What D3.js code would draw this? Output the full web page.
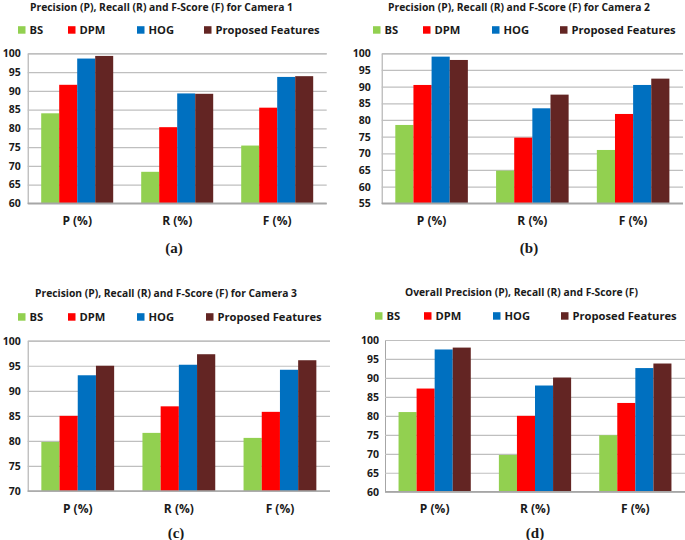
<!DOCTYPE html>
<html><head><meta charset="utf-8">
<script src="https://cdn.jsdelivr.net/npm/d3@7"></script>
<style>
body{margin:0;background:#fff;}
svg{display:block;}
text{font-family:"Open Sans",sans-serif;font-weight:bold;fill:#1a1a1a;}
</style></head>
<body>
<svg id="c" width="685" height="540"></svg>
<script>
const categories = ["P (%)", "R (%)", "F (%)"];
const seriesNames = ["BS", "DPM", "HOG", "Proposed Features"];
const seriesColors = ["#92D050", "#FF0000", "#0070C0", "#632523"];

// Camera 1
const cam1BS   = [84.0, 68.4, 75.4];
const cam1DPM  = [91.6, 80.3, 85.5];
const cam1HOG  = [98.6, 89.3, 93.7];
const cam1Prop = [99.3, 89.2, 93.9];
// Camera 2
const cam2BS   = [78.5, 64.8, 71.0];
const cam2DPM  = [90.5, 74.7, 81.8];
const cam2HOG  = [99.0, 83.5, 90.5];
const cam2Prop = [98.0, 87.6, 92.4];
// Camera 3
const cam3BS   = [79.8, 81.6, 80.6];
const cam3DPM  = [85.0, 86.9, 85.8];
const cam3HOG  = [93.1, 95.2, 94.2];
const cam3Prop = [95.0, 97.3, 96.1];
// Overall
const allBS   = [81.0, 69.7, 74.9];
const allDPM  = [87.2, 80.0, 83.4];
const allHOG  = [97.5, 88.0, 92.6];
const allProp = [98.0, 90.1, 93.8];

const ticksA = [60, 65, 70, 75, 80, 85, 90, 95, 100];
const ticksB = [55, 60, 65, 70, 75, 80, 85, 90, 95, 100];
const ticksC = [70, 75, 80, 85, 90, 95, 100];
const ticksD = [60, 65, 70, 75, 80, 85, 90, 95, 100];

const titles = [
  "Precision (P), Recall (R) and F-Score (F) for Camera 1",
  "Precision (P), Recall (R) and F-Score (F) for Camera 2",
  "Precision (P), Recall (R) and F-Score (F) for Camera 3",
  "Overall Precision (P), Recall (R) and F-Score (F)"
];
const panelLabels = ["(a)", "(b)", "(c)", "(d)"];

const svg = d3.select("#c");

const panels = [
  {series:[cam1BS,cam1DPM,cam1HOG,cam1Prop], ticks:ticksA, x0:27.7, x1:326.7, y0:53.3, y1:203.3,
   titleX:161.5, titleY:11, titleW:263, legY:30, legX:[18,68,137,204], labY:252.5, labX:174, tickGap:7},
  {series:[cam2BS,cam2DPM,cam2HOG,cam2Prop], ticks:ticksB, x0:381.7, x1:683, y0:53.3, y1:203.3,
   titleX:519, titleY:11, titleW:262, legY:30, legX:[373,423,492,560], labY:252.5, labX:529, tickGap:11},
  {series:[cam3BS,cam3DPM,cam3HOG,cam3Prop], ticks:ticksC, x0:27.7, x1:330, y0:340.7, y1:491,
   titleX:166, titleY:297, titleW:262, legY:317, legX:[18,68,137,206], labY:537.5, labX:176, tickGap:7},
  {series:[allBS,allDPM,allHOG,allProp], ticks:ticksD, x0:385, x1:685, y0:340, y1:491.7,
   titleX:521.5, titleY:296, titleW:233, legY:316, legX:[375,424,493,561], labY:537.5, labX:535, tickGap:6}
];

panels.forEach((p, i) => {
  const g = svg.append("g");
  const ext = d3.extent(p.ticks);
  const y = d3.scaleLinear().domain(ext).range([p.y1, p.y0]);
  const x = d3.scaleBand().domain(categories).range([p.x0, p.x1]).paddingInner(0.28).paddingOuter(0.135);
  const xs = d3.scaleBand().domain(seriesNames).range([0, x.bandwidth()]).padding(0);

  // gridlines
  const yAxis = d3.axisLeft(y).tickValues(p.ticks).tickSize(-(p.x1 - p.x0)).tickPadding(p.tickGap).tickFormat(d3.format("d"));
  const ag = g.append("g").attr("transform", `translate(${p.x0},0)`).call(yAxis);
  ag.select(".domain").attr("stroke", "#a6a6a6");
  ag.selectAll(".tick line").attr("stroke", "#bfbfbf").attr("stroke-width", 1.2);
  ag.selectAll(".tick text").style("font-size", "10.5px").attr("fill", "#1a1a1a");

  // bars
  seriesNames.forEach((s, si) => {
    g.append("g").selectAll("rect").data(p.series[si]).join("rect")
      .attr("x", (d, ci) => x(categories[ci]) + xs(s))
      .attr("width", xs.bandwidth())
      .attr("y", d => y(d))
      .attr("height", d => y(ext[0]) - y(d))
      .attr("fill", seriesColors[si]);
  });

  // baseline
  g.append("line").attr("x1", p.x0).attr("x2", p.x1).attr("y1", p.y1).attr("y2", p.y1)
    .attr("stroke", "#a6a6a6").attr("stroke-width", 1.5);

  // category labels
  const xAxis = d3.axisBottom(x).tickSize(0).tickPadding(13);
  const xg = g.append("g").attr("transform", `translate(0,${p.y1})`).call(xAxis);
  xg.select(".domain").remove();
  xg.selectAll(".tick text").style("font-size", "12px").attr("fill", "#1a1a1a");

  // title
  g.append("text").attr("x", p.titleX).attr("y", p.titleY).attr("text-anchor", "middle")
    .style("font-size", "10px").attr("textLength", p.titleW).attr("lengthAdjust", "spacingAndGlyphs")
    .text(titles[i]);

  // legend
  seriesNames.forEach((s, si) => {
    g.append("rect").attr("x", p.legX[si]).attr("y", p.legY - 3.8).attr("width", 7.5).attr("height", 7.5)
      .attr("fill", seriesColors[si]);
    g.append("text").attr("x", p.legX[si] + 11.5).attr("y", p.legY + 4.2)
      .style("font-size", "11.2px").text(s);
  });

  // panel label
  g.append("text").attr("x", p.labX).attr("y", p.labY).attr("text-anchor", "middle")
    .style("font-family", "'Liberation Serif','Times New Roman',serif").style("font-size", "15px")
    .style("font-weight", "bold")
    .text(panelLabels[i]);
});
</script>
</body></html>
